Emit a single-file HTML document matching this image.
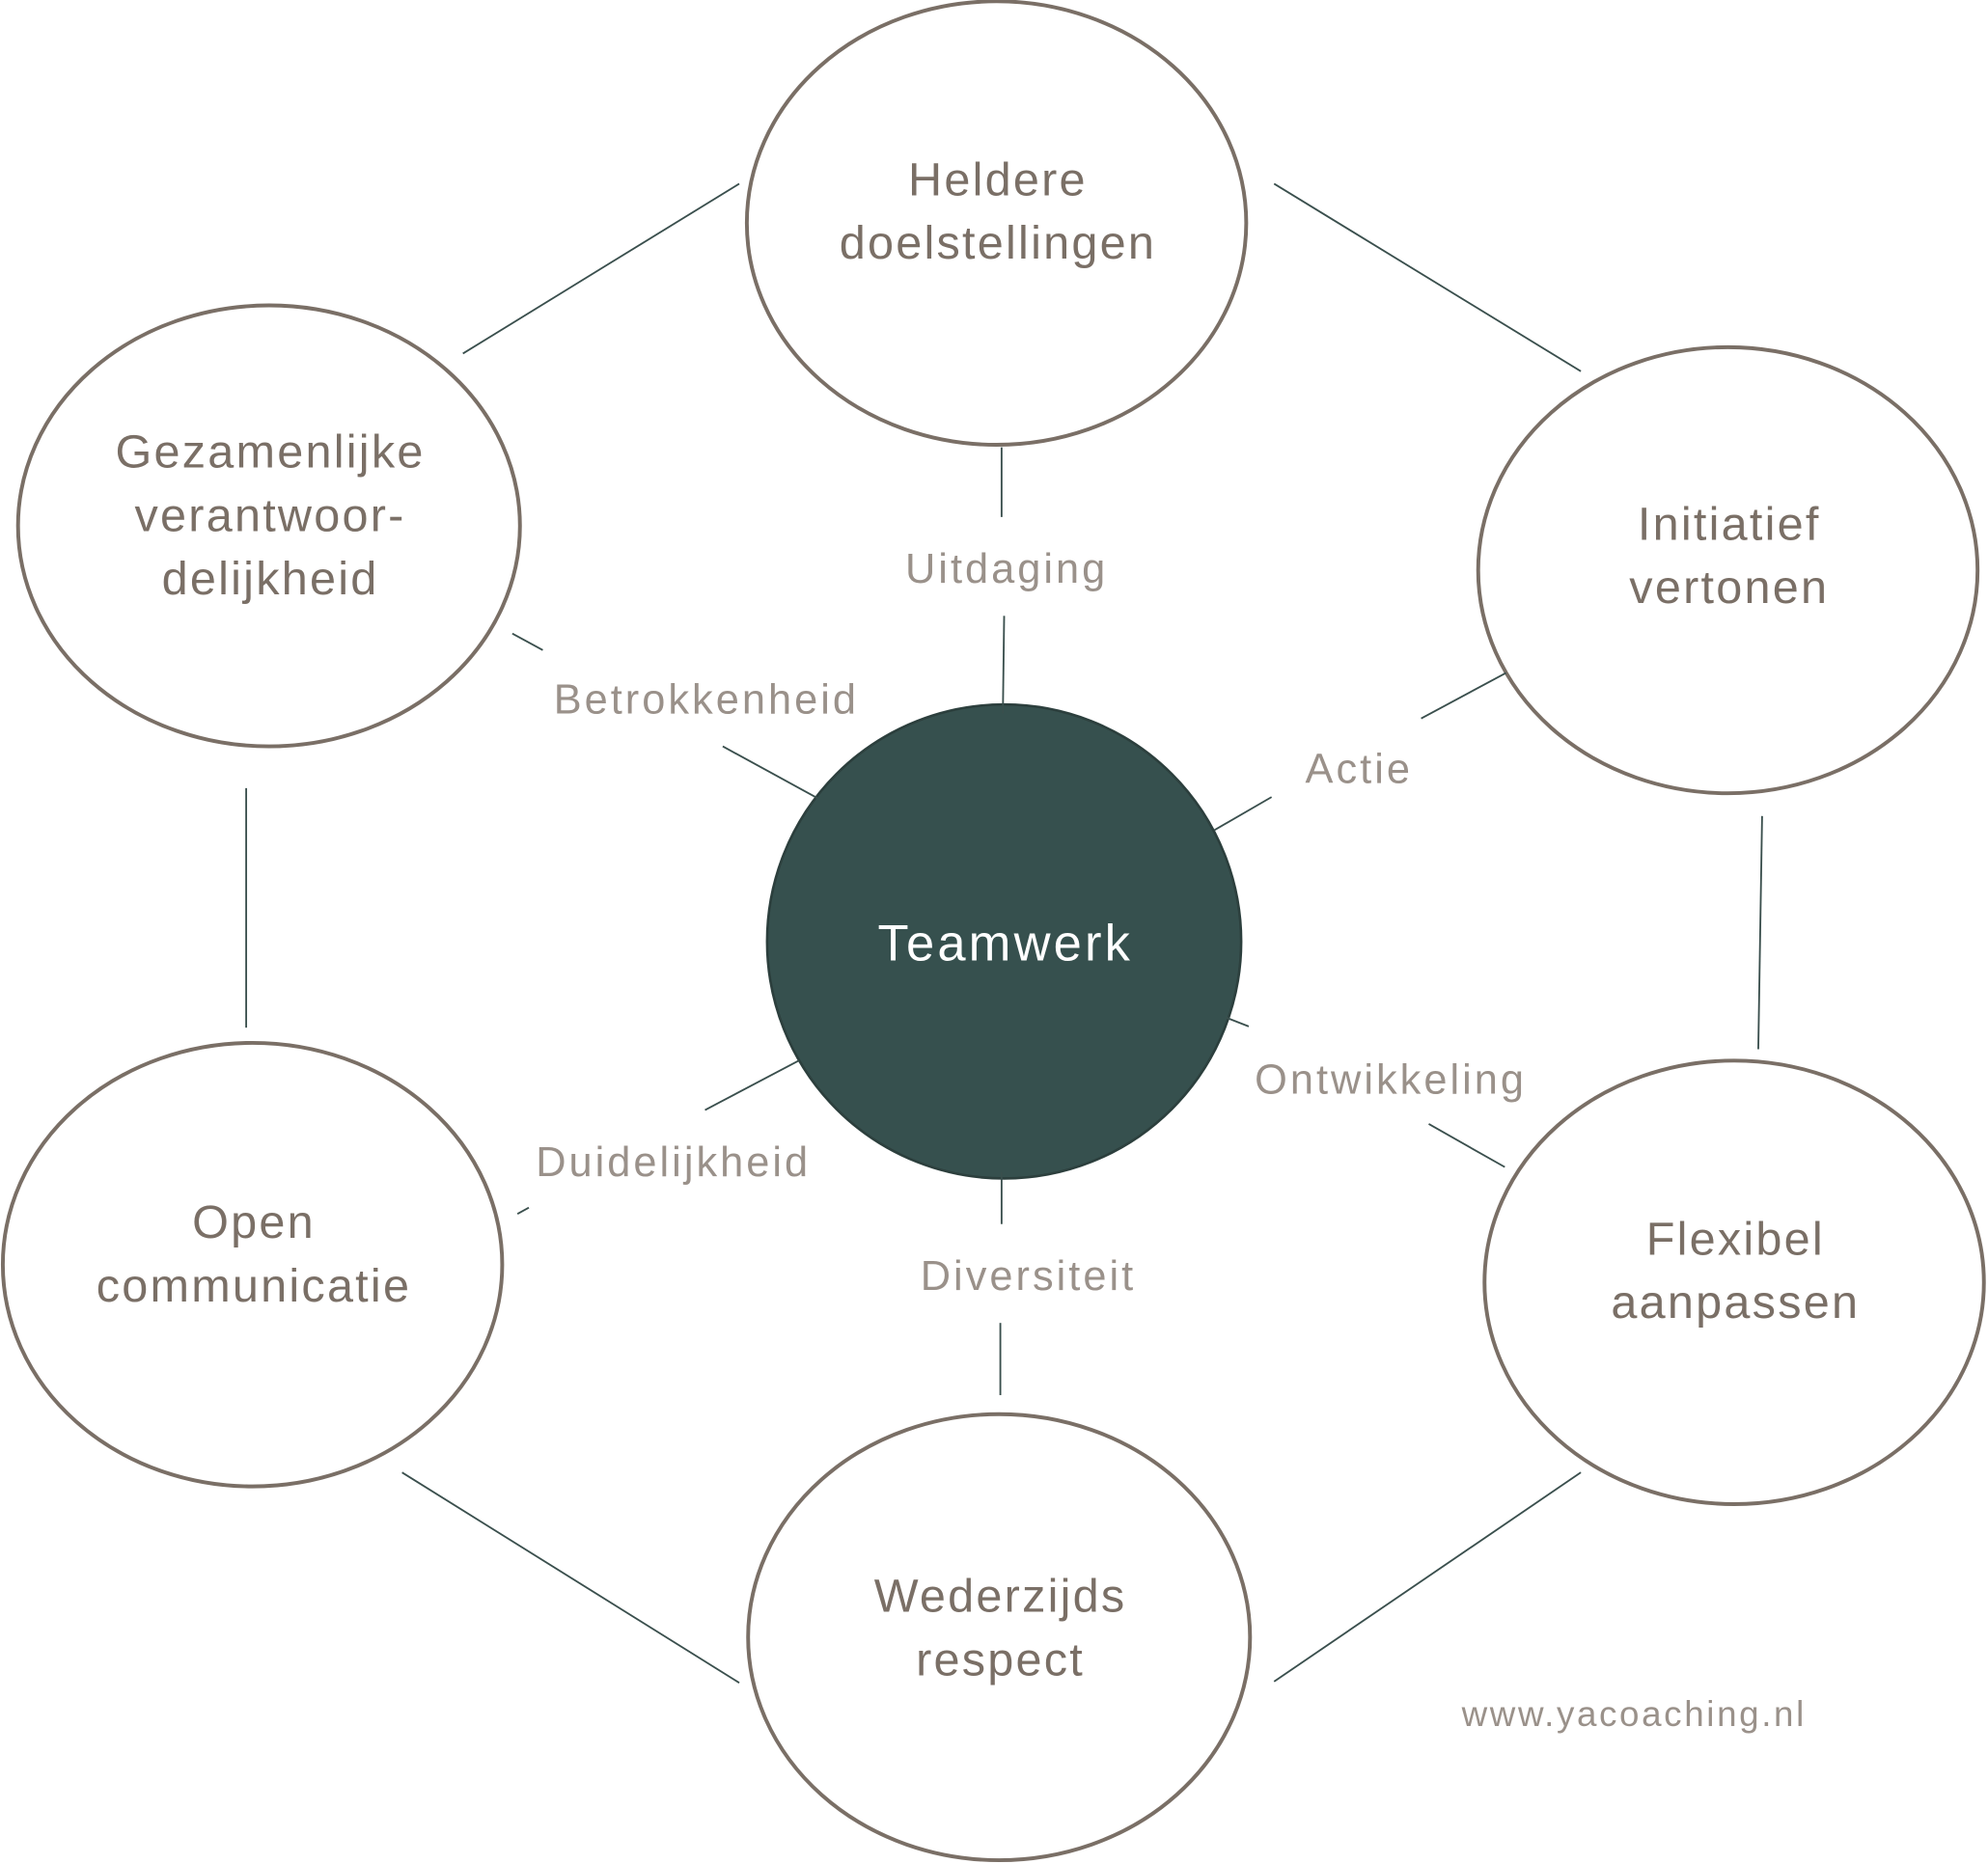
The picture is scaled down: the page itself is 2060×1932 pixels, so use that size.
<!DOCTYPE html>
<html><head><meta charset="utf-8"><style>html,body{margin:0;padding:0;background:#fff}svg{display:block}</style></head>
<body>
<svg width="2060" height="1932" viewBox="0 0 1568 1471" xmlns="http://www.w3.org/2000/svg">
<g fill="#fff" stroke="#7a6f66" stroke-width="3">
<ellipse cx="786" cy="176" rx="197" ry="175"/>
<ellipse cx="212" cy="415" rx="198" ry="174"/>
<ellipse cx="1363" cy="450" rx="197" ry="176"/>
<ellipse cx="199" cy="998" rx="197" ry="175"/>
<ellipse cx="1368" cy="1012" rx="197" ry="175"/>
<ellipse cx="788" cy="1292" rx="198" ry="176"/>
</g>
<circle cx="792" cy="743" r="187" fill="#36504e" stroke="#2c3f3d" stroke-width="2"/>
<g stroke="#3a4f4d" stroke-width="1.4">
<line x1="583" y1="145" x2="365" y2="279"/>
<line x1="1005" y1="145" x2="1247" y2="293"/>
<line x1="194" y1="622" x2="194" y2="811"/>
<line x1="1390" y1="644" x2="1387" y2="828"/>
<line x1="317" y1="1162" x2="583" y2="1328"/>
<line x1="1247" y1="1162" x2="1005" y2="1327"/>
<line x1="790" y1="353" x2="790" y2="408"/>
<line x1="792" y1="486" x2="791" y2="563"/>
<line x1="404" y1="500" x2="428" y2="513"/>
<line x1="570" y1="589" x2="645" y2="630"/>
<line x1="1188" y1="531" x2="1121" y2="567"/>
<line x1="1003" y1="629" x2="958" y2="655"/>
<line x1="967" y1="803" x2="985" y2="810"/>
<line x1="1127" y1="887" x2="1187" y2="921"/>
<line x1="630" y1="837" x2="556" y2="876"/>
<line x1="417" y1="953" x2="408" y2="958"/>
<line x1="790" y1="925" x2="790" y2="966"/>
<line x1="789" y1="1044" x2="789" y2="1101"/>
</g>
<g font-family="'Liberation Sans', sans-serif" text-anchor="middle" fill="#7a6f66" font-size="37" letter-spacing="1.7">
<text x="787" y="154">Heldere</text><text x="787" y="204">doelstellingen</text>
<text x="213" y="369">Gezamenlijke</text><text x="213" y="419">verantwoor-</text><text x="213" y="469">delijkheid</text>
<text x="1364" y="426">Initiatief</text><text x="1364" y="476">vertonen</text>
<text x="200" y="977">Open</text><text x="200" y="1027">communicatie</text>
<text x="1369" y="990">Flexibel</text><text x="1369" y="1040">aanpassen</text>
<text x="789" y="1272">Wederzijds</text><text x="789" y="1322">respect</text>
<text x="793" y="758" fill="#ffffff" font-size="40" letter-spacing="2.4">Teamwerk</text>
</g>
<g font-family="'Liberation Sans', sans-serif" text-anchor="middle" fill="#9a918a" font-size="33" letter-spacing="2.3">
<text x="794" y="460">Uitdaging</text>
<text x="557" y="563">Betrokkenheid</text>
<text x="1072" y="618">Actie</text>
<text x="1097" y="863">Ontwikkeling</text>
<text x="531" y="928">Duidelijkheid</text>
<text x="811" y="1018">Diversiteit</text>
<text x="1289" y="1362" font-size="28" letter-spacing="2">www.yacoaching.nl</text>
</g>
</svg>
</body></html>
